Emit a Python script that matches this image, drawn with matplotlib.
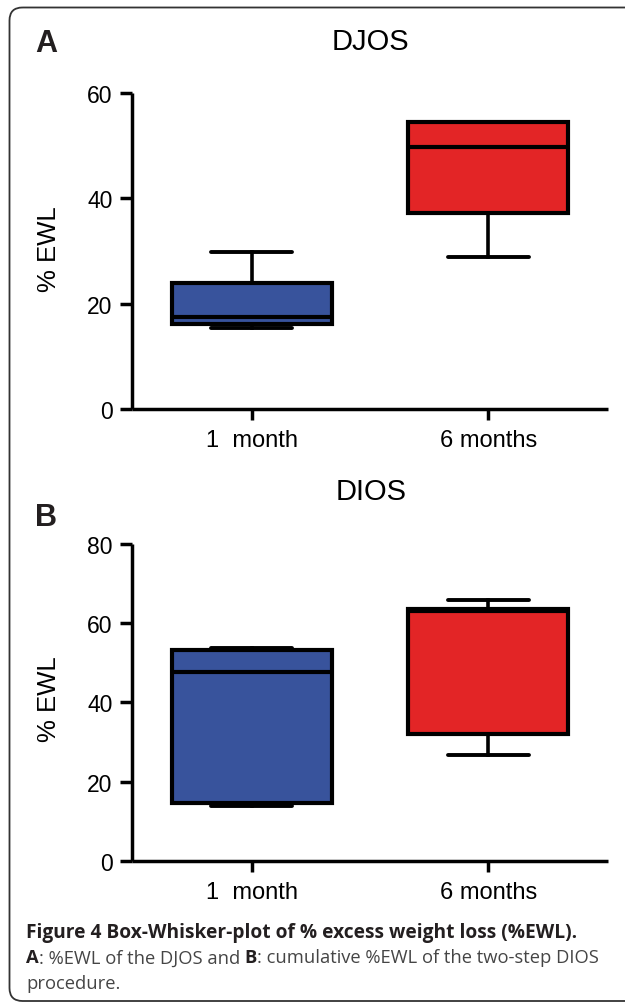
import matplotlib
matplotlib.use("Agg")
import matplotlib.pyplot as plt
from matplotlib.patches import FancyBboxPatch

plt.rcParams['font.family'] = ['Liberation Sans', 'DejaVu Sans']

# ---- data ----
groups = ["1  month", "6 months"]
box_colors = ["#38539C", "#E32526"]

djos_whislo = [15.3, 28.9]
djos_q1 = [16.1, 37.3]
djos_med = [17.5, 49.7]
djos_q3 = [24.0, 54.4]
djos_whishi = [29.9, 54.4]

dios_whislo = [13.7, 26.8]
dios_q1 = [14.7, 32.0]
dios_med = [47.6, 63.0]
dios_q3 = [53.1, 63.7]
dios_whishi = [53.7, 65.9]

djos_ticks = [0, 20, 40, 60]
dios_ticks = [0, 20, 40, 60, 80]

W, H = 625, 1004
fig = plt.figure(figsize=(W / 100, H / 100), dpi=100)

# background frame
bg = fig.add_axes([0, 0, 1, 1], zorder=-5)
bg.set_xlim(0, W)
bg.set_ylim(H, 0)
bg.axis('off')
bg.add_patch(FancyBboxPatch((9.5, 8.5), 660, 993.5,
                            boxstyle="round,pad=0,rounding_size=13",
                            fc='none', ec='#333333', lw=1.3))


def stats(lo, q1, med, q3, hi):
    return [dict(whislo=lo[i], q1=q1[i], med=med[i], q3=q3[i], whishi=hi[i],
                 label=groups[i]) for i in range(len(groups))]


def panel(rect, st, ticks, ymax):
    ax = fig.add_axes(rect)
    art = ax.bxp(st, positions=[0, 1], widths=0.676, capwidths=0.34,
                 patch_artist=True, showfliers=False,
                 boxprops=dict(lw=3.0, edgecolor='black'),
                 medianprops=dict(lw=3.0, color='black', solid_capstyle='butt'),
                 whiskerprops=dict(lw=2.6, color='black'),
                 capprops=dict(lw=2.8, color='black', solid_capstyle='round'))
    for patch, c in zip(art['boxes'], box_colors):
        patch.set_facecolor(c)
        patch.set_joinstyle('miter')
    ax.set_xlim(-0.504, 1.504)
    ax.set_ylim(0, ymax)
    ax.set_yticks(ticks)
    ax.set_xticks([0, 1])
    ax.set_xticklabels(groups)
    for s in ['top', 'right']:
        ax.spines[s].set_visible(False)
    for s in ['left', 'bottom']:
        ax.spines[s].set_linewidth(2.5)
        ax.spines[s].set_capstyle('butt')
    ax.tick_params(axis='y', length=8.6, width=2.5, pad=5.5, labelsize=16.5,
                   direction='out')
    ax.tick_params(axis='x', length=8, width=2.5, pad=6.5, labelsize=17,
                   direction='out')
    ax.patch.set_alpha(0)
    return ax


def fx(x):
    return x / W


def fy(y):
    return 1 - y / H


# Panel A
axA = panel([fx(132.3), fy(410), fx(607.6 - 132.3), (410 - 94) / H],
            stats(djos_whislo, djos_q1, djos_med, djos_q3, djos_whishi),
            djos_ticks, 60)
# Panel B
axB = panel([fx(132.3), fy(861.7), fx(607.6 - 132.3), (861.7 - 545) / H],
            stats(dios_whislo, dios_q1, dios_med, dios_q3, dios_whishi),
            dios_ticks, 80)

fig.text(fx(35), fy(44), "A", fontsize=22, fontweight='bold', ha='left', va='center',
         color='#231F20')
fig.text(fx(35), fy(518), "B", fontsize=22, fontweight='bold', ha='left', va='center',
         color='#231F20')
fig.text(fx(370), fy(42), "DJOS", fontsize=21, ha='center', va='center')
fig.text(fx(371), fy(492), "DIOS", fontsize=21, ha='center', va='center')
fig.text(fx(49), fy(249), "% EWL", fontsize=18.5, rotation=90, ha='center', va='center')
fig.text(fx(49), fy(699), "% EWL", fontsize=18.5, rotation=90, ha='center', va='center')

# caption
cap_font = ['Open Sans', 'DejaVu Sans']
cap_size = 13.2
fig.text(fx(26), fy(938), "Figure 4 Box-Whisker-plot of % excess weight loss (%EWL).",
         family=cap_font, fontsize=13.8, fontweight='bold', color='#231F20',
         ha='left', va='baseline')

renderer = fig.canvas.get_renderer()
x = 26
pieces = [("A", 'bold', '#231F20'), (": %EWL of the DJOS and ", 'normal', '#454545'),
          ("B", 'bold', '#231F20'), (": cumulative %EWL of the two-step DIOS", 'normal', '#454545')]
for txt, wt, col in pieces:
    t = fig.text(fx(x), fy(963.5), txt, family=cap_font, fontsize=cap_size,
                 fontweight=wt, color=col, ha='left', va='baseline')
    bb = t.get_window_extent(renderer=renderer)
    x += bb.width
fig.text(fx(26), fy(989.5), "procedure.", family=cap_font, fontsize=cap_size,
         color='#454545', ha='left', va='baseline')

fig.savefig("out.png", dpi=100)
